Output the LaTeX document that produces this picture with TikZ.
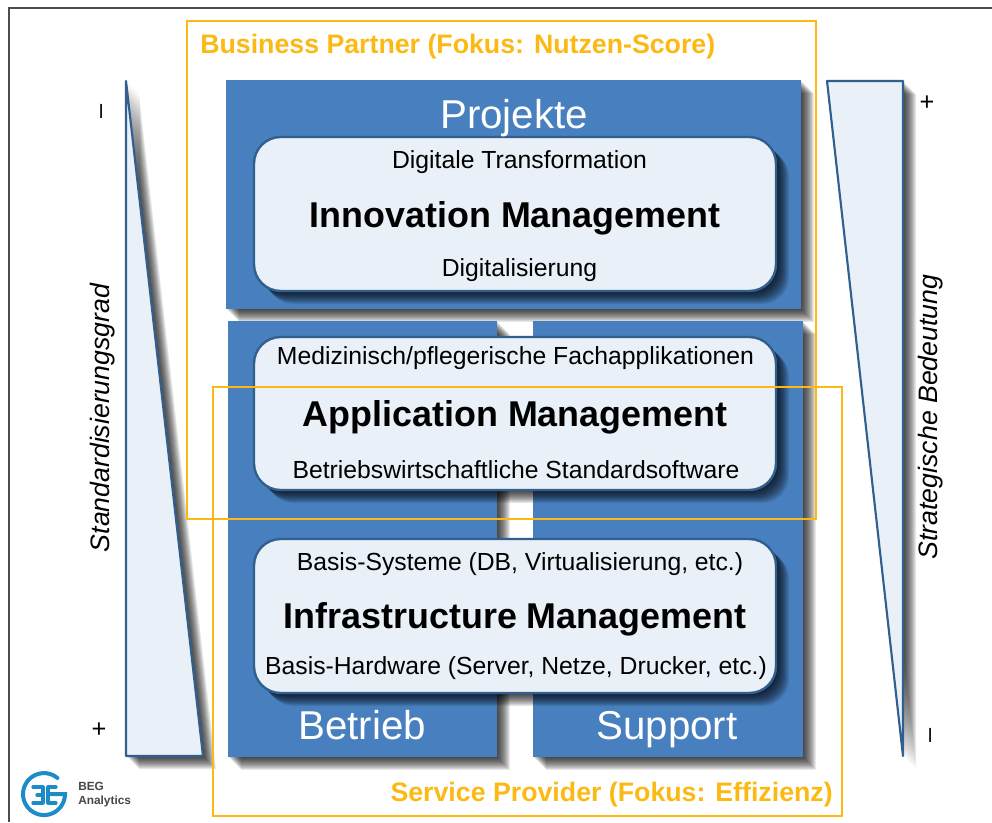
\documentclass[tikz,border=0pt]{standalone}
\usepackage{fontspec}
\setmainfont{Liberation Sans}
\newcommand{\softshadow}[1]{%
  \foreach \w in {1,...,13}{%
    \fill[black,opacity=0.085,shift={(\w,\w)}] #1;%
  }%
}
\definecolor{blueblock}{HTML}{4880BF}
\definecolor{paleblue}{HTML}{E9F0F7}
\definecolor{edgeblue}{HTML}{315F8F}
\definecolor{frameor}{HTML}{FDB913}
\definecolor{logoblue}{HTML}{1C8CC8}
\tikzset{
  x=0.75pt,y=-0.75pt,
  block/.style={fill=blueblock},
  panel/.style={fill=paleblue,draw=edgeblue,line width=1.8pt},
  wedge/.style={fill=paleblue,draw=edgeblue,line width=1.6pt,line join=round},
  frame/.style={draw=frameor,line width=2.1pt},
  small/.style={font=\fontsize{18.55pt}{22pt}\selectfont,text=black,inner sep=0pt,anchor=base},
  big/.style={font=\fontsize{26.9pt}{32pt}\selectfont\bfseries,text=black,inner sep=0pt,anchor=base},
  head/.style={font=\fontsize{30.2pt}{36pt}\selectfont,text=white,inner sep=0pt,anchor=base},
  side/.style={font=\fontsize{20pt}{24pt}\selectfont\itshape,text=black,inner sep=0pt,rotate=90},
  sign/.style={font=\fontsize{19pt}{22pt}\selectfont,text=black,inner sep=0pt},
  frametitle/.style={font=\fontsize{20.05pt}{24pt}\selectfont\bfseries,text=frameor,inner sep=0pt},
  logotext/.style={font=\fontsize{8.9pt}{10.5pt}\selectfont\bfseries,text=black!72,inner sep=0pt,align=left,anchor=west},
}
\begin{document}
\begin{tikzpicture}
\useasboundingbox (0,0) rectangle (992,822);
\fill[white] (0,0) rectangle (992,822);
\draw[black!70,line width=0.9pt] (992,8) -- (9,8) -- (9,822);
% wedges
\softshadow{(126,81) -- (203,756) -- (126,756) -- cycle}
\softshadow{(827,81) -- (903,81) -- (903,756) -- cycle}
\draw[wedge] (126,81) -- (203,756) -- (126,756) -- cycle;
\draw[wedge] (827,81) -- (903,81) -- (903,756) -- cycle;
% blocks
\softshadow{(228,321) rectangle (497,757)}
\softshadow{(533,321) rectangle (803,757)}
\softshadow{(226,80) rectangle (801,309)}
\fill[block] (228,321) rectangle (497,757);
\fill[block] (533,321) rectangle (803,757);
\fill[block] (226,80) rectangle (801,309);
% panels
\foreach \a/\b in {137/291,337/490,539/693}{
  \softshadow{[rounded corners=20pt] (254,\a) rectangle (776,\b)}
  \draw[panel,rounded corners=20pt] (254,\a) rectangle (776,\b);
}
% texts
\node[head] (projekte) at (514,128) {Projekte};
\node[small] (dt) at (519.5,168) {Digitale Transformation};
\node[big] (im) at (515,227) {Innovation Management};
\node[small] (dig) at (519.5,276) {Digitalisierung};
\node[small] (med) at (515.5,364) {Medizinisch/pflegerische Fachapplikationen};
\node[big] (am) at (515,426) {Application Management};
\node[small] (bw) at (516,478) {Betriebswirtschaftliche Standardsoftware};
\node[small] (bs) at (520,570) {Basis-Systeme (DB, Virtualisierung, etc.)};
\node[big] (inf) at (515,628) {Infrastructure Management};
\node[small] (bh) at (516,674) {Basis-Hardware (Server, Netze, Drucker, etc.)};
\node[head] (betrieb) at (362,739) {Betrieb};
\node[head] (support) at (667,739) {Support};
\node[side] (std) at (103,418) {Standardisierungsgrad};
\node[side] (str) at (931,417) {Strategische Bedeutung};
\node[sign,rotate=90] (m1) at (104,111) {–};
\node[sign] (p1) at (99,730) {+};
\node[sign] (p2) at (927,103) {+};
\node[sign,rotate=90] (m2) at (933,735) {–};
% frames
\draw[frame] (187,21) rectangle (816,519);
\draw[frame] (213,387) rectangle (842,816);
\node[frametitle,anchor=base west] (bp) at (200,53) {Business Partner (Fokus: Nutzen-Score)};
\node[frametitle,anchor=base east] (sp) at (833,801) {Service Provider (Fokus: Effizienz)};
% logo
\draw[logoblue,line width=3pt,line cap=round] (57.5,778) arc (-50:-360:21) -- (48,794);
\draw[logoblue,line width=2.4pt,line join=round,line cap=round] (33,787) -- (43,787) -- (43,803) -- (33,803) (37,795) -- (43,795);
\draw[logoblue,line width=2.4pt,line cap=round,line join=round] (56,787) -- (48,787) -- (48,803) -- (56,803);
\node[logotext] (logo) at (78,795) {BEG\\Analytics};
\end{tikzpicture}
\end{document}
